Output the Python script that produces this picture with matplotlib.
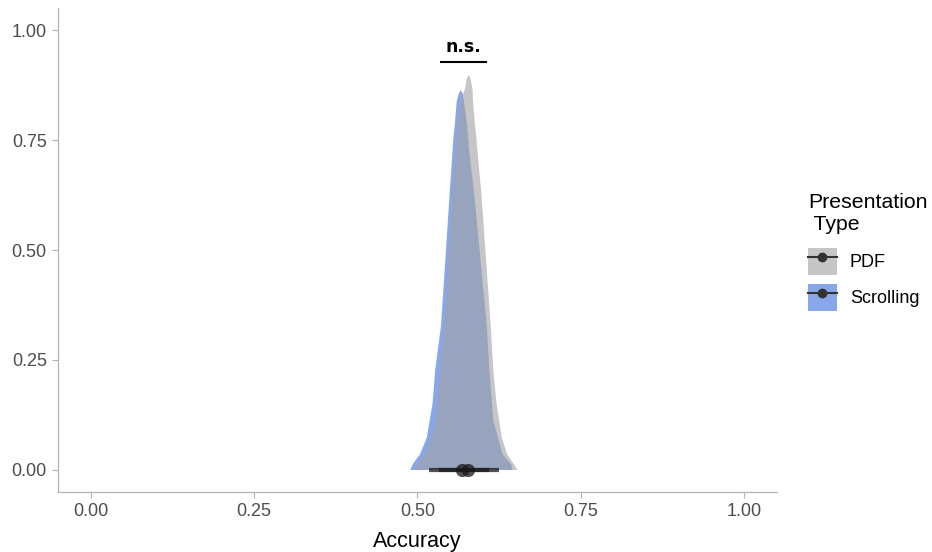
import matplotlib
matplotlib.use('Agg')
import matplotlib.pyplot as plt
from matplotlib.patches import Patch
from matplotlib.lines import Line2D
from matplotlib.legend_handler import HandlerTuple

plt.rcParams['font.family'] = ['Liberation Sans', 'DejaVu Sans']

# density outlines (accuracy, scaled density)
pdf_x = [0.496, 0.499, 0.511, 0.521, 0.528, 0.534, 0.541, 0.553, 0.560, 0.566, 0.573, 0.575,
         0.578, 0.581, 0.584, 0.585, 0.588, 0.590, 0.593, 0.598, 0.612, 0.616, 0.621,
         0.629, 0.637, 0.647, 0.653]
pdf_y = [0.000, 0.011, 0.036, 0.073, 0.112, 0.226, 0.328, 0.624, 0.772, 0.838, 0.868, 0.888,
         0.898, 0.890, 0.868, 0.838, 0.784, 0.756, 0.704, 0.624, 0.328, 0.226, 0.150,
         0.073, 0.036, 0.014, 0.000]

scr_x = [0.489, 0.493, 0.504, 0.514, 0.523, 0.527, 0.536, 0.549, 0.555, 0.557, 0.560, 0.563,
         0.566, 0.569, 0.571, 0.576, 0.579, 0.587, 0.606, 0.610, 0.616, 0.630, 0.644, 0.645]
scr_y = [0.000, 0.014, 0.036, 0.073, 0.150, 0.226, 0.328, 0.624, 0.756, 0.784, 0.838, 0.855,
         0.863, 0.857, 0.838, 0.784, 0.727, 0.624, 0.328, 0.226, 0.112, 0.036, 0.011, 0.000]

# point estimates and intervals
groups = ['PDF', 'Scrolling']
point_est = [0.578, 0.568]
lower = [0.533, 0.518]
upper = [0.625, 0.609]

fill_colors = {'PDF': '#a3a3a3', 'Scrolling': '#3f72e0'}

sig_label = 'n.s.'
sig_span = [0.536, 0.605]
sig_height = 0.927

fig = plt.figure(figsize=(9.32, 5.52), dpi=100)
ax = fig.add_axes([0.0622, 0.1087, 0.7715, 0.8768])

# scrolling first, pdf on top (blend looks gray-blue)
ax.fill(scr_x, scr_y, color=fill_colors['Scrolling'], alpha=0.62, lw=0)
ax.fill(pdf_x, pdf_y, color=fill_colors['PDF'], alpha=0.62, lw=0)

for pe, lo, hi in zip(point_est, lower, upper):
    ax.plot([lo, hi], [0, 0], color='#1a1a1a', lw=3, alpha=0.75, solid_capstyle='butt')
    ax.plot([pe], [0], 'o', color='#1a1a1a', ms=9.5, alpha=0.75, mew=0)

ax.plot(sig_span, [sig_height, sig_height], color='black', lw=1.5)
ax.text(sum(sig_span) / 2, sig_height + 0.014, sig_label, ha='center', va='bottom',
        fontsize=12.5, fontweight='bold', family=['DejaVu Sans'])

ax.set_xlim(-0.05, 1.05)
ax.set_ylim(-0.05, 1.05)
ticks = [0, 0.25, 0.5, 0.75, 1.0]
ax.set_xticks(ticks)
ax.set_yticks(ticks)
ax.set_xticklabels(['%.2f' % t for t in ticks])
ax.set_yticklabels(['%.2f' % t for t in ticks])
ax.tick_params(colors='#b3b3b3', labelcolor='#4d4d4d', labelsize=13, length=4, width=0.8, pad=4)
for s in ['top', 'right']:
    ax.spines[s].set_visible(False)
for s in ['left', 'bottom']:
    ax.spines[s].set_color('#b3b3b3')
    ax.spines[s].set_linewidth(0.9)
ax.set_xlabel('Accuracy', fontsize=15.5, labelpad=8)

# legend: filled key with point-interval glyph
handles = []
for g in groups:
    p = Patch(facecolor=fill_colors[g], alpha=0.62, edgecolor='none')
    ln = Line2D([0], [0], color='#333333', lw=1.5, marker='o', ms=6)
    handles.append((p, ln))
leg = fig.legend(handles, groups, handler_map={tuple: HandlerTuple(ndivide=1, pad=0)},
                 title='Presentation\n Type', loc='upper left',
                 bbox_to_anchor=(0.867, 0.651), frameon=False, fontsize=13,
                 title_fontsize=15.3, handlelength=1.6, handleheight=2.0,
                 handletextpad=0.72, labelspacing=0.45, borderpad=0, borderaxespad=0)
leg._legend_box.align = 'left'
leg._legend_box.sep = 10
leg.get_title().set_multialignment('left')

fig.savefig('out.png', dpi=100, facecolor='white')
